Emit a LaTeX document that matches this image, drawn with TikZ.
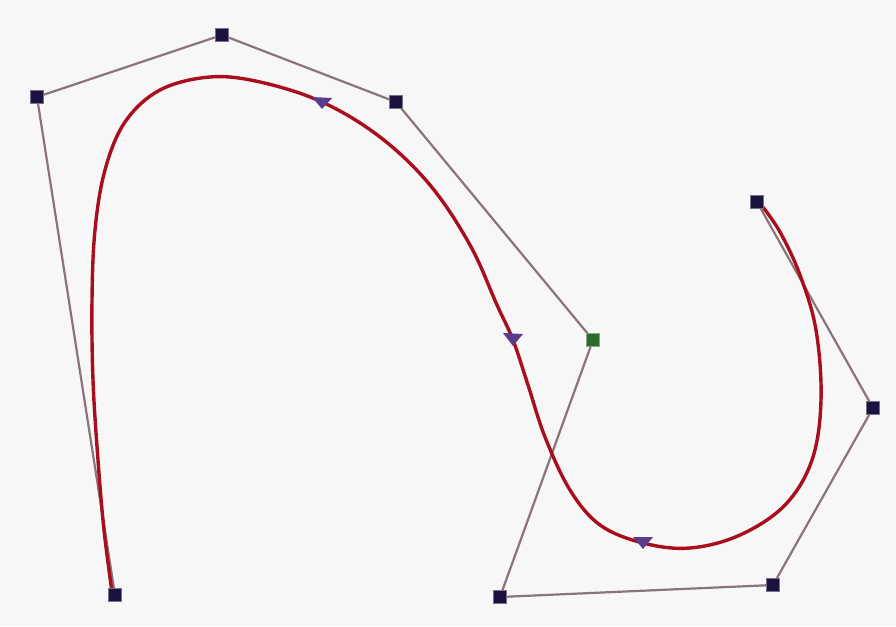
\documentclass[tikz,border=0pt]{standalone}
\begin{document}
\begin{tikzpicture}[x=1pt,y=-1pt,
  ctrl/.style={fill=ptcol,draw=ptcol!60!white,line width=1pt,minimum size=13pt,inner sep=0pt,rectangle},
  poly/.style={draw=polycol,line width=2.2pt},
  curve/.style={draw=curvecol,line width=3.4pt,line cap=round},
  knot/.style={fill=knotcol,draw=none}]
\definecolor{ptcol}{HTML}{1C1240}
\definecolor{polycol}{HTML}{8A747C}
\definecolor{curvecol}{HTML}{A80E1C}
\definecolor{knotcol}{HTML}{5A3C8C}
\definecolor{greencol}{HTML}{2F6A2A}
\definecolor{bgcol}{HTML}{F7F7F7}
\fill[bgcol] (0,0) rectangle (896,626);
\useasboundingbox (0,0) rectangle (896,626);
% control polygon points
\coordinate (p0) at (115,595);
\coordinate (p1) at (37,97);
\coordinate (p2) at (222,35);
\coordinate (p3) at (396,102);
\coordinate (p4) at (593,340);
\coordinate (p5) at (500,597);
\coordinate (p6) at (773,585);
\coordinate (p7) at (873,408);
\coordinate (p8) at (757,202);
\draw[poly] (p0) -- (p1) -- (p2) -- (p3) -- (p4) -- (p5) -- (p6) -- (p7) -- (p8);
% curve
\draw[curve] plot[smooth,tension=0.6] coordinates {
(112,592) (104,530) (98,460) (93,380) (92,300) (95,230) (105,170) (125,122)
(160,90) (210,77) (260,82) (322,102) (380,137) (430,185) (470,245) (497,305)
(513,340) (528,385) (545,437) (570,490) (600,525) (643,543) (690,548)
(740,535) (785,505) (812,460) (821,400) (816,330) (800,275) (780,232) (762,206)};
% knot markers
\fill[knot] (312,97) -- (332,98) -- (322,109) -- cycle;
\fill[knot] (503,333) -- (523,334) -- (513,346) -- cycle;
\fill[knot] (633,537) -- (653,537) -- (643,549) -- cycle;
% control point squares
\node[ctrl] (n0) at (p0) {};
\node[ctrl] (n1) at (p1) {};
\node[ctrl] (n2) at (p2) {};
\node[ctrl] (n3) at (p3) {};
\node[ctrl,fill=greencol,draw=greencol!60!white] (n4) at (p4) {};
\node[ctrl] (n5) at (p5) {};
\node[ctrl] (n6) at (p6) {};
\node[ctrl] (n7) at (p7) {};
\node[ctrl] (n8) at (p8) {};
\end{tikzpicture}
\end{document}
